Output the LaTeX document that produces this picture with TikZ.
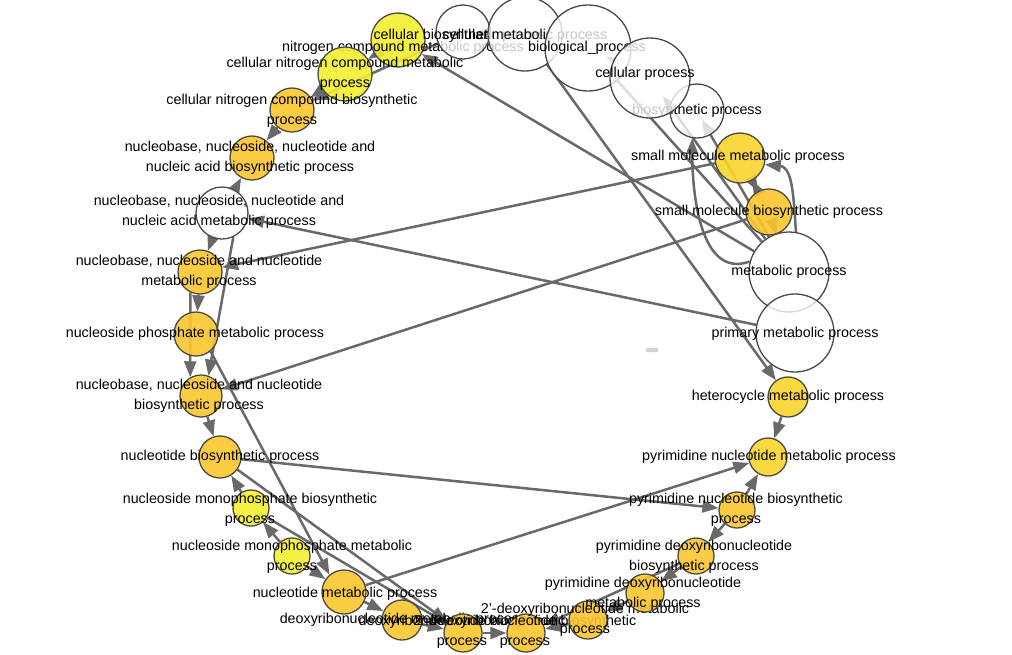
\documentclass[tikz,border=0pt]{standalone}
\usepackage{fontspec}
\setmainfont{Liberation Sans}
\usetikzlibrary{arrows.meta}
\pgfdeclarelayer{background}
\pgfsetlayers{background,main}
\definecolor{goorange}{HTML}{FBC52E}
\definecolor{gomid}{HTML}{F9D42C}
\definecolor{gobright}{HTML}{F3EE30}
\definecolor{goline}{HTML}{696969}
\definecolor{goborder}{HTML}{4A4A40}

\begin{document}
\begin{tikzpicture}[x=1pt, y=-1pt,
	gonode/.style={circle, draw=goborder, line width=1.3pt, inner sep=0pt, fill opacity=0.9},
	goleer/.style={gonode, fill=white, fill opacity=0.78},
	golabel/.style={font=\fontsize{14.3}{20}\selectfont, align=center, inner sep=0pt, text=black},
	goedge/.style={draw=goline, line width=2.5pt, -{Triangle[length=16pt,width=12pt]}},
	]
		%Rahmen
		\useasboundingbox (0,0) rectangle (1012,654);
		
		%gelbe Knoten links
		\node[gonode, fill=gobright, minimum size=54pt] (ncm) at (398,40) {};
		\node[golabel] (ncm-l) at (403,48) {nitrogen compound metabolic process};
		\node[gonode, fill=gobright, minimum size=54pt] (cncm) at (345,74) {};
		\node[golabel] (cncm-l) at (345,74) {cellular nitrogen compound metabolic\\process};
		\node[gonode, fill=goorange, minimum size=44pt] (cncb) at (292,110) {};
		\node[golabel] (cncb-l) at (292,111) {cellular nitrogen compound biosynthetic\\process};
		\node[gonode, fill=goorange, minimum size=44pt] (nab) at (252,158) {};
		\node[golabel] (nab-l) at (250,158) {nucleobase, nucleoside, nucleotide and\\nucleic acid biosynthetic process};
		\node[gonode, fill=goorange, minimum size=44pt] (nnnm) at (200,272) {};
		\node[golabel] (nnnm-l) at (199,272) {nucleobase, nucleoside and nucleotide\\metabolic process};
		\node[gonode, fill=goorange, minimum size=44pt] (npm) at (196,334) {};
		\node[golabel] (npm-l) at (195,334) {nucleoside phosphate metabolic process};
		\node[gonode, fill=goorange, minimum size=42pt] (nnnb) at (201,396) {};
		\node[golabel] (nnnb-l) at (199,396) {nucleobase, nucleoside and nucleotide\\biosynthetic process};
		\node[gonode, fill=goorange, minimum size=42pt] (nbp) at (220,457) {};
		\node[golabel] (nbp-l) at (220,457) {nucleotide biosynthetic process};
		\node[gonode, fill=gobright, minimum size=36pt] (nsmb) at (251,508) {};
		\node[golabel] (nsmb-l) at (250,510) {nucleoside monophosphate biosynthetic\\process};
		\node[gonode, fill=gobright, minimum size=36pt] (nsmm) at (292,556) {};
		\node[golabel] (nsmm-l) at (292,557) {nucleoside monophosphate metabolic\\process};
		
		%gelbe Knoten unten
		\node[gonode, fill=goorange, minimum size=44pt] (nmp) at (344,592) {};
		\node[golabel] (nmp-l) at (345,594) {nucleotide metabolic process};
		\node[gonode, fill=goorange, minimum size=40pt] (drm) at (402,620) {};
		\node[golabel] (drm-l) at (403,620) {deoxyribonucleotide metabolic process};
		\node[gonode, fill=goorange, minimum size=38pt] (drb) at (463,633) {};
		\node[golabel] (drb-l) at (462,632) {deoxyribonucleotide biosynthetic\\process};
		\node[gonode, fill=goorange, minimum size=38pt] (dbio) at (526,633) {};
		\node[golabel] (dbio-l) at (525,632) {2'-deoxyribonucleotide biosynthetic\\process};
		\node[gonode, fill=goorange, minimum size=38pt] (dmeta) at (588,620) {};
		\node[golabel] (dmeta-l) at (585,620) {2'-deoxyribonucleotide metabolic\\process};
		
		%gelbe Knoten rechts
		\node[gonode, fill=goorange, minimum size=38pt] (pdm) at (645,593) {};
		\node[golabel] (pdm-l) at (643,594) {pyrimidine deoxyribonucleotide\\metabolic process};
		\node[gonode, fill=goorange, minimum size=36pt] (pdb) at (696,556) {};
		\node[golabel] (pdb-l) at (694,557) {pyrimidine deoxyribonucleotide\\biosynthetic process};
		\node[gonode, fill=goorange, minimum size=36pt] (pnb) at (737,510) {};
		\node[golabel] (pnb-l) at (736,510) {pyrimidine nucleotide biosynthetic\\process};
		\node[gonode, fill=gomid, minimum size=38pt] (pnm) at (768,457) {};
		\node[golabel] (pnm-l) at (769,457) {pyrimidine nucleotide metabolic process};
		\node[gonode, fill=gomid, minimum size=40pt] (hmp) at (788,397) {};
		\node[golabel] (hmp-l) at (788,397) {heterocycle metabolic process};
		\node[gonode, fill=goorange, minimum size=46pt] (smb) at (769,212) {};
		\node[golabel] (smb-l) at (769,212) {small molecule biosynthetic process};
		\node[gonode, fill=gomid, minimum size=50pt] (smm) at (740,158) {};
		\node[golabel] (smm-l) at (738,157) {small molecule metabolic process};
		
		%weisse Knoten
		\node[goleer, minimum size=54pt] (cbp) at (463,32) {};
		\node[golabel] (cbp-l) at (463,36) {cellular biosynthetic process};
		\node[goleer, minimum size=74pt] (cmp) at (525,34) {};
		\node[golabel] (cmp-l) at (525,36) {cellular metabolic process};
		\node[goleer, minimum size=86pt] (bio) at (588,48) {};
		\node[golabel] (bio-l) at (587,48) {biological\_process};
		\node[goleer, minimum size=54pt] (bp) at (697,111) {};
		\node[golabel] (bp-l) at (697,111) {biosynthetic process};
		\node[goleer, minimum size=80pt] (cp) at (650,78) {};
		\node[golabel] (cp-l) at (645,74) {cellular process};
		\node[goleer, minimum size=80pt] (mp) at (789,272) {};
		\node[golabel] (mp-l) at (789,272) {metabolic process};
		\node[goleer, minimum size=78pt] (pmp) at (795,333) {};
		\node[golabel] (pmp-l) at (795,334) {primary metabolic process};
		\node[goleer, minimum size=52pt] (nam) at (222,213) {};
		\node[golabel] (nam-l) at (219,212) {nucleobase, nucleoside, nucleotide and\\nucleic acid metabolic process};
		
		%Strich in der Mitte
		\node[fill=gray!35, rounded corners=1pt, minimum width=12pt, minimum height=4pt, inner sep=0pt] (minus) at (652,350) {};
		
		\begin{pgfonlayer}{background}
		%Kanten
		\foreach \s/\t in {mp/ncm, cmp/hmp, pmp/nam, smm/nnnm, smb/nnnb, nbp/pnb, nmp/pnm, hmp/pnm,
				pnb/pnm, pnb/pdb, pdb/pdm, pdb/dbio, pdm/dmeta, dmeta/dbio, drb/dbio, drm/drb, nmp/drm,
				nbp/drb, nsmb/drb, nsmm/nmp, nsmm/nsmb, nsmb/nbp, nnnb/nbp, nnnm/npm,
				nam/nnnm, nam/nab, cncb/nab, cncm/cncb, ncm/cncm, cbp/cncb, smb/smm, smm/smb, mp/smb}
			\draw[goedge] (\s) -- (\t);
		\draw[goedge] (nam.-65) -- (nnnb.70);
		\draw[goedge] (npm.-50) -- (nmp.130);
		\draw[goedge] (nnnm.-115) -- (nnnb.120);
		
		%gebogene Kanten
		\draw[goedge] (mp.80) to[out=95, in=-5] (smm.-15);
		\draw[goedge] (mp.165) to[out=200, in=-90] (bp.-100);
		
		%Kanten in die weissen Knoten
		\draw[goedge, shorten >=28pt] (mp) -- (bio.center);
		\draw[goedge, shorten >=22pt] (mp) -- (cp.center);
		\draw[goedge, shorten >=10pt] (mp) -- (bp.center);
		\draw[goedge, shorten >=20pt] (cp) -- (bio.center);
		\draw[goedge, shorten >=12pt] (cmp) -- (cbp.center);
		\draw[goedge, shorten >=18pt] (bio) -- (cmp.center);
		\end{pgfonlayer}
		
\end{tikzpicture}
\end{document}
